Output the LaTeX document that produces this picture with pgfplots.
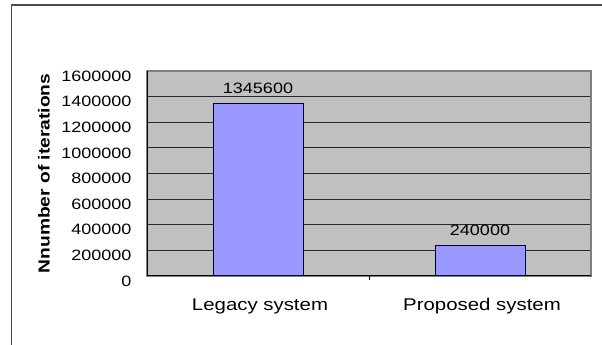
\documentclass[border=0pt]{standalone}
\usepackage{fontspec}
\setmainfont{Liberation Sans}[FakeStretch=1.2]
\usepackage{pgfplots}
\pgfplotsset{compat=1.18}
\definecolor{plotbg}{HTML}{C0C0C0}
\definecolor{barfill}{HTML}{9999FF}
\begin{document}
\begin{tikzpicture}[x=1pt,y=1pt]
\useasboundingbox (0,0) rectangle (602,345);
\draw[black!70, line width=1.5pt] (11.5,0) -- (11.5,340) -- (602,340);
\begin{axis}[
  at={(147pt,69pt)}, anchor=south west,
  scale only axis, width=444pt, height=205pt,
  ybar, bar width=90pt,
  xmin=-0.5, xmax=1.5, ymin=0, ymax=1600000,
  xtick={0,1}, xticklabels={Legacy system, Proposed system},
  xtick pos=bottom, ytick pos=left,
  major tick length=0pt,
  extra x ticks={0.5}, extra x tick labels={},
  extra x tick style={major tick length=4pt, tick style={black, line width=1pt}},
  ytick={0,200000,...,1600000},
  scaled y ticks=false,
  yticklabel={\mbox{\pgfmathprintnumber[fixed,1000 sep={},assume math mode=true]{\tick}}},
  yticklabel style={font=\fontsize{15}{17}\selectfont, xshift=-12pt, yshift=-5pt},
  xticklabel style={font=\fontsize{17}{19}\selectfont, yshift=-19pt, xshift=2pt},
  ylabel={\textbf{Nnumber of iterations}},
  ylabel style={font=\fontsize{16}{18}\selectfont, at={(axis description cs:-0.232,0.5)}, anchor=center},
  axis background/.style={fill=plotbg},
  axis line style={draw=black!50, line width=1.5pt},
  ymajorgrids, major grid style={black!85, line width=1.1pt},
  nodes near coords={\mbox{\pgfmathprintnumber[fixed,1000 sep={},assume math mode=true]{\pgfplotspointmeta}}},
  nodes near coords style={font=\fontsize{15}{17}\selectfont, yshift=6pt, text=black},
]
\addplot[fill=barfill, draw=black, line width=0.8pt] coordinates {(0,1345600) (1,240000)};
\draw[black, line width=1.3pt] (rel axis cs:0,1) -- (rel axis cs:0,0) -- (rel axis cs:1,0);
\end{axis}
\end{tikzpicture}
\end{document}
